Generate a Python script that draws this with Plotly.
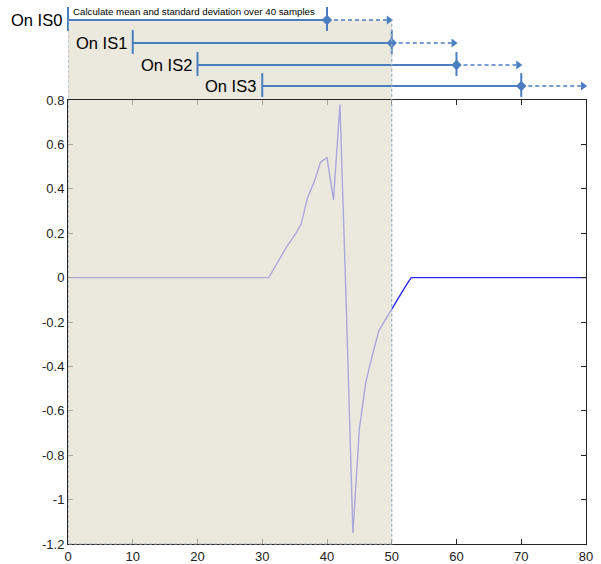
import plotly.graph_objects as go

# ---- signal data ----
sample_x = [0, 31, 32, 33, 34, 35, 36, 37, 38, 39, 40, 41, 42, 43, 44, 45, 46, 47, 48, 49, 50, 51, 52, 53, 80]
sample_y = [0, 0, 0.05, 0.10, 0.15, 0.19, 0.24, 0.36, 0.43, 0.52, 0.54, 0.35, 0.78, -0.15, -1.15, -0.68,
            -0.47, -0.35, -0.24, -0.19, -0.14, -0.09, -0.045, 0, 0]

x_ticks = [0, 10, 20, 30, 40, 50, 60, 70, 80]
y_ticks = [0.8, 0.6, 0.4, 0.2, 0, -0.2, -0.4, -0.6, -0.8, -1, -1.2]
y_tick_labels = ["0.8", "0.6", "0.4", "0.2", "0", "-0.2", "-0.4", "-0.6", "-0.8", "-1", "-1.2"]

# ---- window annotation rows ----
row_labels = ["On IS0", "On IS1", "On IS2", "On IS3"]
row_start = [0, 10, 20, 30]
row_mark = [40, 50, 60, 70]
row_end = [50, 60, 70, 80]
row_level = [80, 57, 35, 14]
shade_x = [0, 50]
caption = "Calculate mean and standard deviation over 40 samples"

W, H = 601, 564
ML, MR, MT, MB = 68, 15, 5, 20
plot_h = H - MT - MB            # 539
main_h = 444
split = main_h / plot_h
shade_top = (main_h + (plot_h - main_h) * row_level[0] / 95) / plot_h

blue_ann = "#4a7ec0"
axis_col = "#262626"
shade_fill = "rgba(226,222,207,0.7)"
shade_edge = "#9fb0c2"

fig = go.Figure()

fig.add_trace(go.Scatter(x=sample_x, y=sample_y, mode="lines",
                         line=dict(color="#2a2aff", width=1.4),
                         xaxis="x", yaxis="y", hoverinfo="skip", showlegend=False))

for lab, s, m, e, lv in zip(row_labels, row_start, row_mark, row_end, row_level):
    fig.add_trace(go.Scatter(x=[s, m], y=[lv, lv], mode="lines",
                             line=dict(color=blue_ann, width=2),
                             xaxis="x", yaxis="y2", cliponaxis=False, showlegend=False, hoverinfo="skip"))
    fig.add_trace(go.Scatter(x=[m, e - 0.4], y=[lv, lv], mode="lines",
                             line=dict(color=blue_ann, width=1.5, dash="4px,3px"),
                             xaxis="x", yaxis="y2", cliponaxis=False, showlegend=False, hoverinfo="skip"))
    fig.add_trace(go.Scatter(x=[s, m], y=[lv + 1, lv + 1], mode="markers",
                             marker=dict(symbol="line-ns", size=17, line=dict(color=blue_ann, width=2)),
                             xaxis="x", yaxis="y2", cliponaxis=False, showlegend=False, hoverinfo="skip"))
    fig.add_trace(go.Scatter(x=[m], y=[lv], mode="markers",
                             marker=dict(symbol="diamond", size=8, color=blue_ann),
                             xaxis="x", yaxis="y2", cliponaxis=False, showlegend=False, hoverinfo="skip"))
    fig.add_trace(go.Scatter(x=[e - 0.45], y=[lv], mode="markers",
                             marker=dict(symbol="triangle-right", size=8, color=blue_ann),
                             xaxis="x", yaxis="y2", cliponaxis=False, showlegend=False, hoverinfo="skip"))
    fig.add_annotation(x=s, y=lv, xref="x", yref="y2", text=lab, showarrow=False,
                       xanchor="right", yanchor="middle", xshift=-4,
                       font=dict(family="Liberation Sans, Arial", size=16.5, color="black"))

fig.add_annotation(x=row_start[0], y=row_level[0] + 9, xref="x", yref="y2", text=caption,
                   showarrow=False, xanchor="left", yanchor="middle", xshift=3,
                   font=dict(family="Liberation Sans, Arial", size=9.7, color="black"))

# shaded window: over the curve in the plot area, under the row markers above it
fig.add_shape(type="rect", xref="x", yref="paper", x0=shade_x[0], x1=shade_x[1],
              y0=0, y1=split, fillcolor=shade_fill, line=dict(width=0), layer="above")
fig.add_shape(type="rect", xref="x", yref="paper", x0=shade_x[0], x1=shade_x[1],
              y0=split, y1=shade_top, fillcolor=shade_fill, line=dict(width=0), layer="below")
fig.add_shape(type="path", xref="x", yref="paper",
              path=f"M {shade_x[0]},{shade_top} L {shade_x[0]},0 L {shade_x[1]},0 L {shade_x[1]},{shade_top}",
              line=dict(color=shade_edge, width=1.2, dash="3px,2px"), layer="above")

axis_common = dict(showgrid=False, zeroline=False, showline=True, mirror="ticks",
                   linecolor=axis_col, linewidth=1, ticks="inside", ticklen=5,
                   tickcolor=axis_col, tickwidth=1, automargin=False,
                   tickfont=dict(family="Liberation Sans, Arial", size=13, color="#222"))

fig.update_layout(
    width=W, height=H,
    margin=dict(l=ML, r=MR, t=MT, b=MB, autoexpand=False),
    paper_bgcolor="white", plot_bgcolor="rgba(0,0,0,0)",
    showlegend=False,
    xaxis=dict(range=[0, 80], tickvals=x_ticks, anchor="y", domain=[0, 1], **axis_common),
    yaxis=dict(range=[-1.2, 0.8], tickvals=y_ticks, ticktext=y_tick_labels,
               domain=[0, split], anchor="x", **axis_common),
    yaxis2=dict(range=[0, 95], domain=[split, 1], visible=False, anchor="x",
                showgrid=False, zeroline=False),
)

fig.write_html("out.html", config={"displayModeBar": False},
               post_script="document.body.style.margin='0px';")
